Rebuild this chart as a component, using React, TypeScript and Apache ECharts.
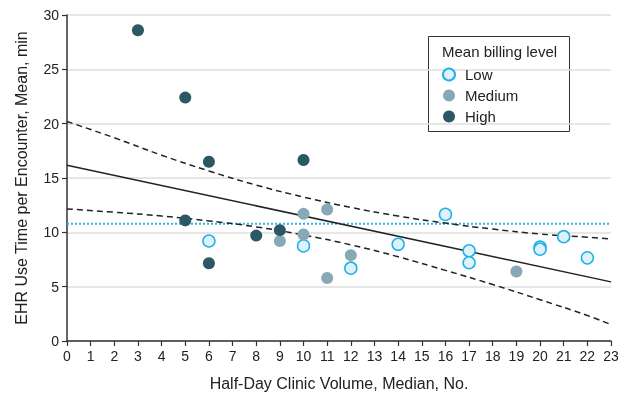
import React, { useEffect, useRef } from "react";
import * as echarts from "echarts";

const xTicks = [0, 23, 1];
const yTicks = [0, 30, 5];

const lowPoints: [number, number][] = [
  [6, 9.2], [10, 8.75], [12, 6.7], [14, 8.9], [16, 11.65], [17, 8.3], [17, 7.2],
  [20, 8.65], [20, 8.45], [21, 9.6], [22, 7.65],
];
const mediumPoints: [number, number][] = [
  [9, 9.2], [10, 11.7], [10, 9.8], [11, 12.1], [11, 5.8], [12, 7.9], [19, 6.4],
];
const highPoints: [number, number][] = [
  [3, 28.6], [5, 22.4], [5, 11.1], [6, 16.5], [6, 7.15], [8, 9.7], [9, 10.2], [10, 16.65],
];

const fitLine: [number, number][] = [[0, 16.17], [23, 5.44]];
const upperBand: [number, number][] = [
  [0, 20.2], [2, 18.7], [4, 17.1], [6, 15.65], [8, 14.35], [10, 13.25], [12, 12.3],
  [14, 11.5], [16, 10.85], [18, 10.3], [20, 9.85], [22, 9.55], [23, 9.4],
];
const lowerBand: [number, number][] = [
  [0, 12.15], [2, 11.85], [4, 11.5], [6, 11.05], [8, 10.5], [10, 9.75], [12, 8.85],
  [14, 7.75], [16, 6.5], [18, 5.2], [20, 3.8], [22, 2.35], [23, 1.5],
];
const referenceLevel = 10.8;

const FONT = "'Liberation Sans Narrow', 'Liberation Sans', sans-serif";

export default function App() {
  const ref = useRef<HTMLDivElement>(null);
  useEffect(() => {
    if (!ref.current) return;
    const chart = echarts.init(ref.current, null, { renderer: "svg" });
    const dashLine = (name: string, data: [number, number][], type: any) => ({
      name,
      type: "line",
      data,
      showSymbol: false,
      symbol: "none",
      smooth: true,
      silent: true,
      z: 2,
      lineStyle: { color: "#222", width: 1.5, type },
    });
    chart.setOption({
      animation: false,
      textStyle: { fontFamily: FONT },
      grid: { left: 67, right: 15, top: 15, bottom: 53, outerBoundsMode: "none", containLabel: false },
      xAxis: {
        type: "value",
        min: xTicks[0],
        max: xTicks[1],
        interval: xTicks[2],
        name: "Half-Day Clinic Volume, Median, No.",
        nameLocation: "middle",
        nameGap: 34,
        nameTextStyle: { fontSize: 16, color: "#222", fontFamily: FONT, verticalAlign: "top" },
        axisLine: { lineStyle: { color: "#333", width: 1.5 } },
        axisTick: { show: true, length: 5, lineStyle: { color: "#333", width: 1.2 } },
        axisLabel: { fontSize: 14, color: "#222", margin: 8, fontFamily: FONT },
        splitLine: { show: false },
      },
      yAxis: {
        type: "value",
        min: yTicks[0],
        max: yTicks[1],
        interval: yTicks[2],
        name: "EHR Use Time per Encounter, Mean, min",
        nameLocation: "middle",
        nameGap: 38,
        nameTextStyle: { fontSize: 16, color: "#222", fontFamily: FONT },
        axisLine: { show: true, lineStyle: { color: "#333", width: 1.5 } },
        axisTick: { show: true, length: 5, lineStyle: { color: "#333", width: 1.2 } },
        axisLabel: { fontSize: 14, color: "#222", margin: 8, fontFamily: FONT },
        splitLine: { show: true, lineStyle: { color: "#dedede", width: 1.5 } },
      },
      legend: {
        orient: "vertical",
        left: 437,
        top: 62,
        itemWidth: 22,
        itemHeight: 12,
        itemGap: 6,
        data: ["Low", "Medium", "High"],
        textStyle: { fontSize: 15, color: "#222", fontFamily: FONT },
      },
      graphic: [
        {
          type: "rect",
          left: 428,
          top: 36,
          shape: { width: 141, height: 95 },
          style: { fill: "#fff", stroke: "#333", lineWidth: 1 },
          z: -1,
        },
        {
          type: "text",
          left: 442,
          top: 44,
          style: { text: "Mean billing level", fontSize: 15, fill: "#222", fontFamily: FONT },
        },
      ],
      series: [
        {
          name: "Reference",
          type: "line",
          data: [[0, referenceLevel], [23, referenceLevel]],
          symbol: "none",
          silent: true,
          z: 1,
          lineStyle: { color: "#2fb3e6", width: 2, type: "dotted" },
        },
        dashLine("Upper", upperBand, [6, 4]),
        dashLine("Lower", lowerBand, [6, 4]),
        { ...dashLine("Fit", fitLine, "solid"), smooth: false },
        {
          name: "Low",
          type: "scatter",
          data: lowPoints,
          symbolSize: 12,
          z: 5,
          itemStyle: { color: "#def2fa", borderColor: "#22b0e8", borderWidth: 1.5, opacity: 1 },
        },
        {
          name: "Medium",
          type: "scatter",
          data: mediumPoints,
          symbolSize: 12,
          z: 5,
          itemStyle: { color: "#87a8b5", opacity: 1 },
        },
        {
          name: "High",
          type: "scatter",
          data: highPoints,
          symbolSize: 12,
          z: 5,
          itemStyle: { color: "#2c5866", opacity: 1 },
        },
      ],
    });
    return () => chart.dispose();
  }, []);
  return (
    <div
      ref={ref}
      style={{ position: "fixed", left: 0, top: 0, width: 626, height: 394 }}
    />
  );
}
